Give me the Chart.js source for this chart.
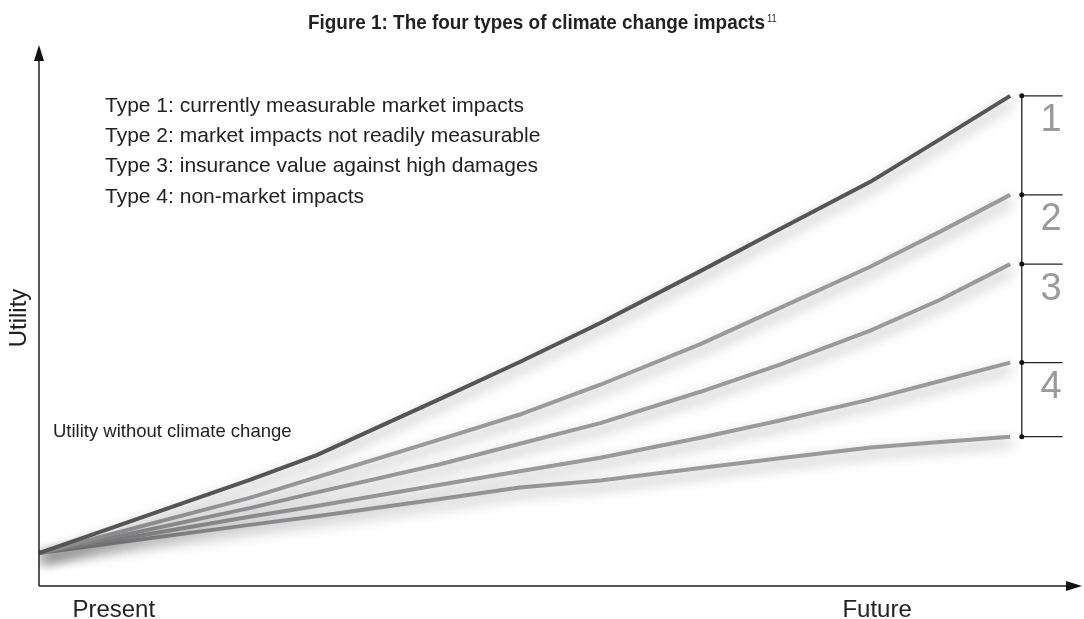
<!DOCTYPE html>
<html>
<head>
<meta charset="utf-8">
<script src="https://cdn.jsdelivr.net/npm/chart.js@4"></script>
<style>
  html, body { margin: 0; padding: 0; background: #fff; }
  #wrap { width: 1084px; height: 619px; }
</style>
</head>
<body>
<div id="wrap"><canvas id="chart"></canvas></div>
<script>
// x runs from Present (0) to the end of the lines (100), y is utility
const X_POINTS = [0, 21.7, 28.6, 41.3, 49.5, 57.8, 68.1, 76.3, 85.6, 92.8, 100]
const NO_CLIMATE_CHANGE = [6.1, 19.6, 24.2, 34.6, 41.4, 48.6, 58.2, 66.0, 74.7, 82.6, 90.6]
const LESS_TYPE1 = [6.1, 16.3, 20.1, 27.1, 31.7, 37.2, 44.7, 51.4, 59.0, 65.5, 72.3]
const LESS_TYPE2 = [6.1, 14.4, 17.3, 22.5, 26.3, 30.1, 35.9, 40.9, 47.2, 52.9, 59.5]
const LESS_TYPE3 = [6.1, 12.8, 14.8, 18.7, 21.2, 23.7, 27.4, 30.6, 34.5, 37.9, 41.3]
const LESS_TYPE4 = [6.1, 11.3, 12.9, 16.1, 18.2, 19.5, 21.8, 23.6, 25.6, 26.6, 27.6]

const X_TICKS = [7.7, 86.3]
const X_TICK_LABELS = ['Present', 'Future']
const IMPACT_LABELS = ['1', '2', '3', '4']
const LEGEND_LINES = [
    'Type 1: currently measurable market impacts',
    'Type 2: market impacts not readily measurable',
    'Type 3: insurance value against high damages',
    'Type 4: non-market impacts'
]

const SERIES = [NO_CLIMATE_CHANGE, LESS_TYPE1, LESS_TYPE2, LESS_TYPE3, LESS_TYPE4]
const LINE_COLORS = ['#555555', '#9a9a9c', '#9a9a9c', '#9a9a9c', '#9a9a9c']

const FONT = "'Liberation Sans', Arial, sans-serif"
const BRACKET_X = 101.2
const BRACKET_END = 105.4

const toPoints = ys => ys.map((y, i) => ({ x: X_POINTS[i], y }))

const shadowLines = {
    id: 'shadowLines',
    beforeDatasetDraw(chart) {
        const { ctx } = chart
        ctx.save()
        ctx.shadowColor = 'rgba(0,0,0,0.4)'
        ctx.shadowBlur = 14
        ctx.shadowOffsetX = 2
        ctx.shadowOffsetY = 6
    },
    afterDatasetDraw(chart) {
        chart.ctx.restore()
    }
}

const decorations = {
    id: 'decorations',
    afterDraw(chart) {
        const { ctx, chartArea } = chart
        const xs = chart.scales.x
        const ys = chart.scales.y
        const x0 = xs.getPixelForValue(0)
        const y0 = ys.getPixelForValue(0)
        ctx.save()

        // axes with arrow heads
        ctx.strokeStyle = '#222'
        ctx.fillStyle = '#111'
        ctx.lineWidth = 1.5
        ctx.beginPath()
        ctx.moveTo(x0, y0)
        ctx.lineTo(x0, chartArea.top + 10)
        ctx.moveTo(x0, y0)
        ctx.lineTo(chartArea.right - 10, y0)
        ctx.stroke()
        ctx.beginPath()
        ctx.moveTo(x0, chartArea.top)
        ctx.lineTo(x0 - 5, chartArea.top + 16)
        ctx.lineTo(x0 + 5, chartArea.top + 16)
        ctx.closePath()
        ctx.fill()
        ctx.beginPath()
        ctx.moveTo(chartArea.right, y0)
        ctx.lineTo(chartArea.right - 16, y0 - 5)
        ctx.lineTo(chartArea.right - 16, y0 + 5)
        ctx.closePath()
        ctx.fill()

        // brackets at the end of the lines
        const bx = xs.getPixelForValue(BRACKET_X)
        const be = xs.getPixelForValue(BRACKET_END)
        const ends = SERIES.map(s => ys.getPixelForValue(s[s.length - 1]))
        ctx.lineWidth = 1.3
        ctx.strokeStyle = '#222'
        ctx.beginPath()
        ctx.moveTo(bx, ends[0])
        ctx.lineTo(bx, ends[ends.length - 1])
        ends.forEach(y => { ctx.moveTo(bx, y); ctx.lineTo(be, y) })
        ctx.stroke()
        ends.forEach(y => {
            ctx.beginPath()
            ctx.arc(bx, y, 2.5, 0, Math.PI * 2)
            ctx.fill()
        })
        ctx.fillStyle = '#9a9a9a'
        ctx.font = `38px ${FONT}`
        ctx.textAlign = 'center'
        ctx.textBaseline = 'top'
        IMPACT_LABELS.forEach((label, i) => {
            ctx.fillText(label, (bx + be) / 2 + 9, ends[i] + 6)
        })

        // title, squeezed to the narrow face of the original, with superscript
        ctx.fillStyle = '#222'
        ctx.textBaseline = 'alphabetic'
        ctx.textAlign = 'left'
        const title = 'Figure 1: The four types of climate change impacts'
        ctx.font = `bold 21px ${FONT}`
        const tw = ctx.measureText(title).width
        const squeeze = 457 / tw
        ctx.save()
        ctx.translate(308, 29)
        ctx.scale(squeeze, 1)
        ctx.fillText(title, 0, 0)
        ctx.restore()
        ctx.font = `11px ${FONT}`
        ctx.save()
        ctx.translate(767, 22)
        ctx.scale(0.85, 1)
        ctx.fillText('11', 0, 0)
        ctx.restore()

        // legend text
        ctx.font = `21px ${FONT}`
        LEGEND_LINES.forEach((line, i) => ctx.fillText(line, 105, 112 + i * 30.2))

        ctx.font = `18.5px ${FONT}`
        ctx.fillText('Utility without climate change', 53, 437)

        // x tick labels
        ctx.font = `24px ${FONT}`
        ctx.textAlign = 'center'
        X_TICKS.forEach((v, i) => ctx.fillText(X_TICK_LABELS[i], xs.getPixelForValue(v), 617))

        // y axis title
        ctx.translate(26, 318)
        ctx.rotate(-Math.PI / 2)
        ctx.font = `24px ${FONT}`
        ctx.fillText('Utility', 0, 0)
        ctx.restore()
    }
}

new Chart(document.getElementById('chart'), {
    type: 'line',
    data: {
        datasets: SERIES.map((s, i) => ({
            label: i === 0 ? 'Utility without climate change' : LEGEND_LINES[i - 1],
            data: toPoints(s),
            borderColor: LINE_COLORS[i],
            borderWidth: 4,
            pointRadius: 0,
            tension: 0,
            fill: false
        }))
    },
    options: {
        responsive: true,
        maintainAspectRatio: false,
        animation: false,
        layout: { padding: { left: 39, top: 45, right: 2, bottom: 33 } },
        plugins: { legend: { display: false }, tooltip: { enabled: false } },
        scales: {
            x: { type: 'linear', min: 0, max: 107.4, display: false },
            y: { min: 0, max: 100, display: false }
        }
    },
    plugins: [shadowLines, decorations]
})
</script>
</body>
</html>
